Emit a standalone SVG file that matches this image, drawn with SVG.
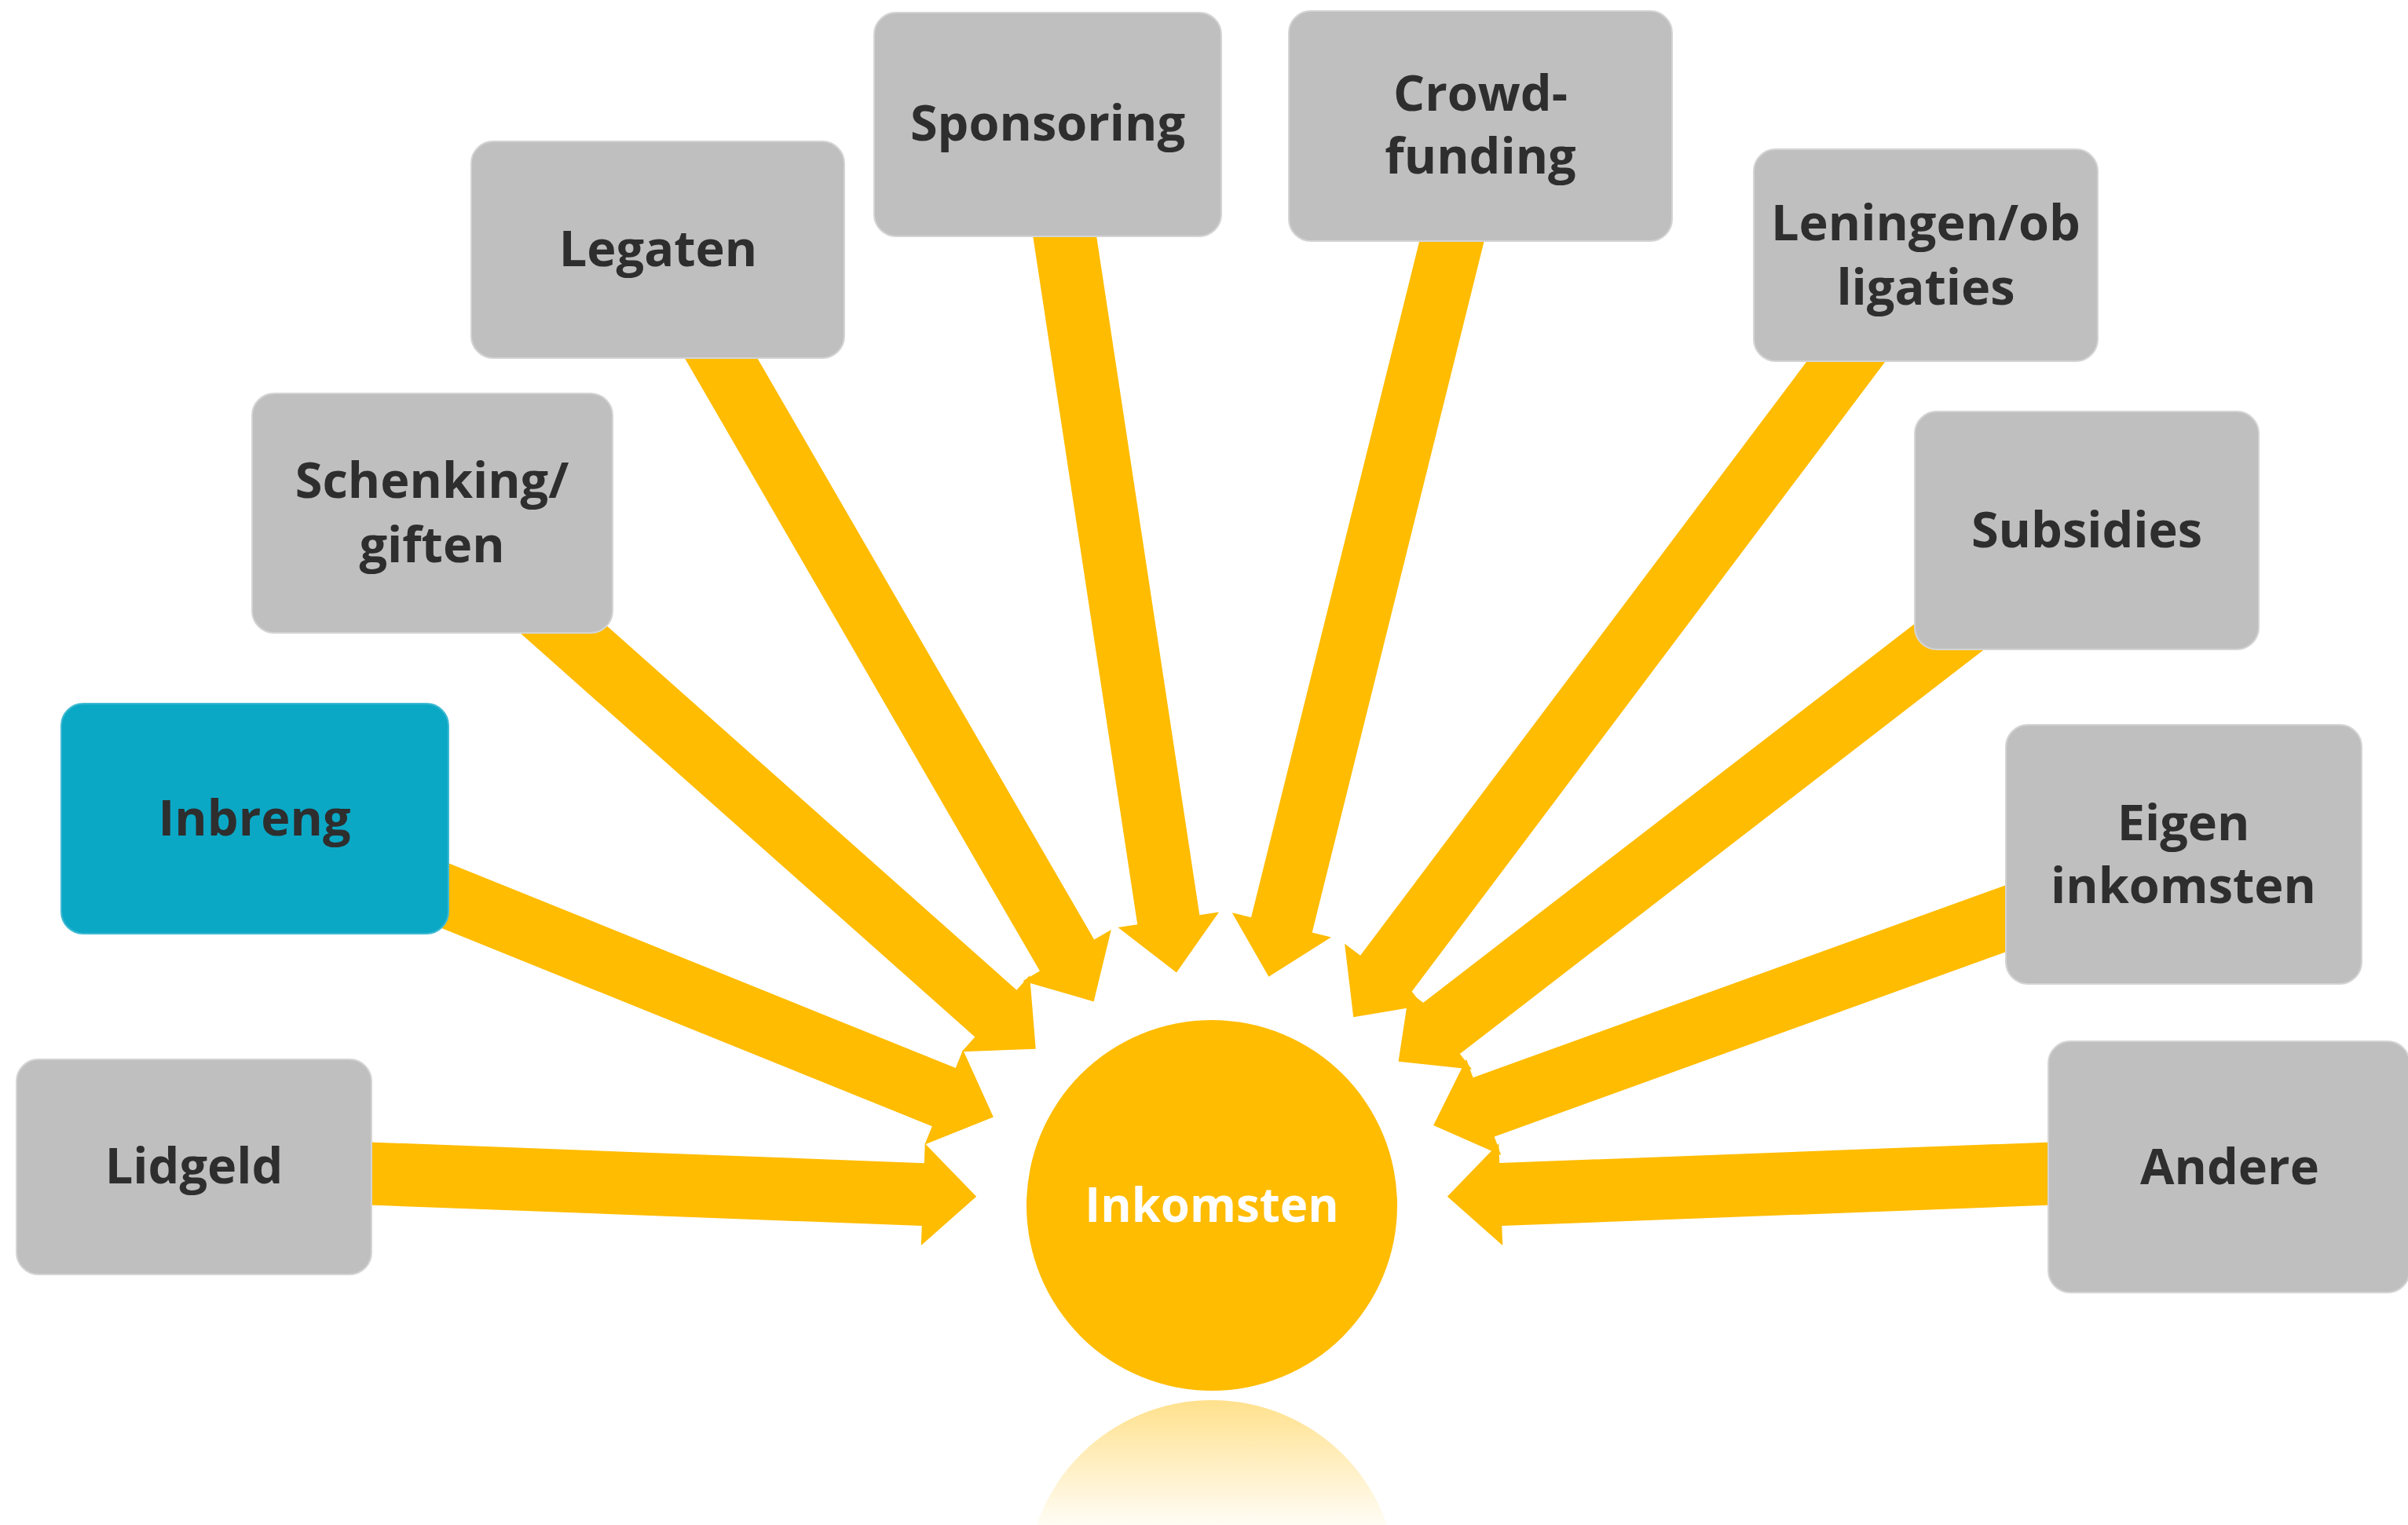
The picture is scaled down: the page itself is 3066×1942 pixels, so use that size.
<svg xmlns="http://www.w3.org/2000/svg" width="3066" height="1942" viewBox="0 0 3066 1942">
  <defs>
    <linearGradient id="refl" gradientUnits="userSpaceOnUse" x1="0" y1="1783" x2="0" y2="1942">
      <stop offset="0" stop-color="#FFBC00" stop-opacity="0.45"/>
      <stop offset="1" stop-color="#FFBC00" stop-opacity="0.04"/>
    </linearGradient>
    <style>
      .arrow { fill: #FFBC00; }
      .box { fill: #BFBFBF; stroke: #D4D4D4; stroke-width: 2; }
      .box-hl { fill: #0BA8C6; stroke: #3FBAD2; stroke-width: 2; }
      .lbl { font-family: "Open Sans", "Liberation Sans", sans-serif; font-weight: 700; font-size: 63px; fill: #2E2E2E; text-anchor: middle; }
      .center-lbl { font-family: "Open Sans", "Liberation Sans", sans-serif; font-weight: 700; font-size: 60px; fill: #FFFFFF; text-anchor: middle; }
    </style>
  </defs>
  <rect x="0" y="0" width="3066" height="1942" fill="#FFFFFF"/>

  <g id="connectors">
    <path class="arrow" transform="translate(1543 1535) rotate(2.165)" d="M -1297,-40 L -368,-40 L -368,-65 L -300,0 L -368,65 L -368,40 L -1297,40 Z"/>
    <path class="arrow" transform="translate(1543 1535) rotate(22.0)" d="M -1314,-40 L -368,-40 L -368,-65 L -300,0 L -368,65 L -368,40 L -1314,40 Z"/>
    <path class="arrow" transform="translate(1543 1535) rotate(41.62)" d="M -1328,-40 L -368,-40 L -368,-65 L -300,0 L -368,65 L -368,40 L -1328,40 Z"/>
    <path class="arrow" transform="translate(1543 1535) rotate(59.92)" d="M -1406,-40 L -368,-40 L -368,-65 L -300,0 L -368,65 L -368,40 L -1406,40 Z"/>
    <path class="arrow" transform="translate(1543 1535) rotate(81.37)" d="M -1393,-40 L -368,-40 L -368,-65 L -300,0 L -368,65 L -368,40 L -1393,40 Z"/>
    <path class="arrow" transform="translate(1543 1535) rotate(103.97)" d="M -1417,-40 L -368,-40 L -368,-65 L -300,0 L -368,65 L -368,40 L -1417,40 Z"/>
    <path class="arrow" transform="translate(1543 1535) rotate(126.92)" d="M -1513,-40 L -368,-40 L -368,-65 L -300,0 L -368,65 L -368,40 L -1513,40 Z"/>
    <path class="arrow" transform="translate(1543 1535) rotate(142.36)" d="M -1407,-40 L -368,-40 L -368,-65 L -300,0 L -368,65 L -368,40 L -1407,40 Z"/>
    <path class="arrow" transform="translate(1543 1535) rotate(160.13)" d="M -1315,-40 L -368,-40 L -368,-65 L -300,0 L -368,65 L -368,40 L -1315,40 Z"/>
    <path class="arrow" transform="translate(1543 1535) rotate(177.83)" d="M -1295,-40 L -368,-40 L -368,-65 L -300,0 L -368,65 L -368,40 L -1295,40 Z"/>
  </g>

  <g id="reflection">
    <circle cx="1543" cy="2019" r="236" fill="url(#refl)"/>
  </g>

  <g id="node-inkomsten">
    <circle cx="1543" cy="1535" r="236" fill="#FFBC00"/>
    <text class="center-lbl" x="1543" y="1556">Inkomsten</text>
  </g>

  <g id="node-lidgeld">
    <rect class="box" x="21" y="1349" width="452" height="274" rx="28"/>
    <text class="lbl" x="247" y="1507">Lidgeld</text>
  </g>

  <g id="node-inbreng">
    <rect class="box-hl" x="78" y="896" width="493" height="293" rx="28"/>
    <text class="lbl" x="324" y="1064">Inbreng</text>
  </g>

  <g id="node-schenking">
    <rect class="box" x="321" y="501" width="459" height="305" rx="28"/>
    <text class="lbl" x="550" y="634">Schenking/</text>
    <text class="lbl" x="550" y="716">giften</text>
  </g>

  <g id="node-legaten">
    <rect class="box" x="600" y="180" width="475" height="276" rx="28"/>
    <text class="lbl" x="838" y="339">Legaten</text>
  </g>

  <g id="node-sponsoring">
    <rect class="box" x="1113" y="16" width="442" height="285" rx="28"/>
    <text class="lbl" x="1334" y="179">Sponsoring</text>
  </g>

  <g id="node-crowdfunding">
    <rect class="box" x="1641" y="14" width="488" height="293" rx="28"/>
    <text class="lbl" x="1885" y="141">Crowd-</text>
    <text class="lbl" x="1885" y="221">funding</text>
  </g>

  <g id="node-leningen">
    <rect class="box" x="2233" y="190" width="438" height="270" rx="28"/>
    <text class="lbl" x="2452" y="306">Leningen/ob</text>
    <text class="lbl" x="2452" y="388">ligaties</text>
  </g>

  <g id="node-subsidies">
    <rect class="box" x="2438" y="524" width="438" height="303" rx="28"/>
    <text class="lbl" x="2657" y="697">Subsidies</text>
  </g>

  <g id="node-eigen">
    <rect class="box" x="2554" y="923" width="453" height="330" rx="28"/>
    <text class="lbl" x="2780" y="1070">Eigen</text>
    <text class="lbl" x="2780" y="1150">inkomsten</text>
  </g>

  <g id="node-andere">
    <rect class="box" x="2608" y="1326" width="460" height="320" rx="28"/>
    <text class="lbl" x="2839" y="1508">Andere</text>
  </g>
</svg>
